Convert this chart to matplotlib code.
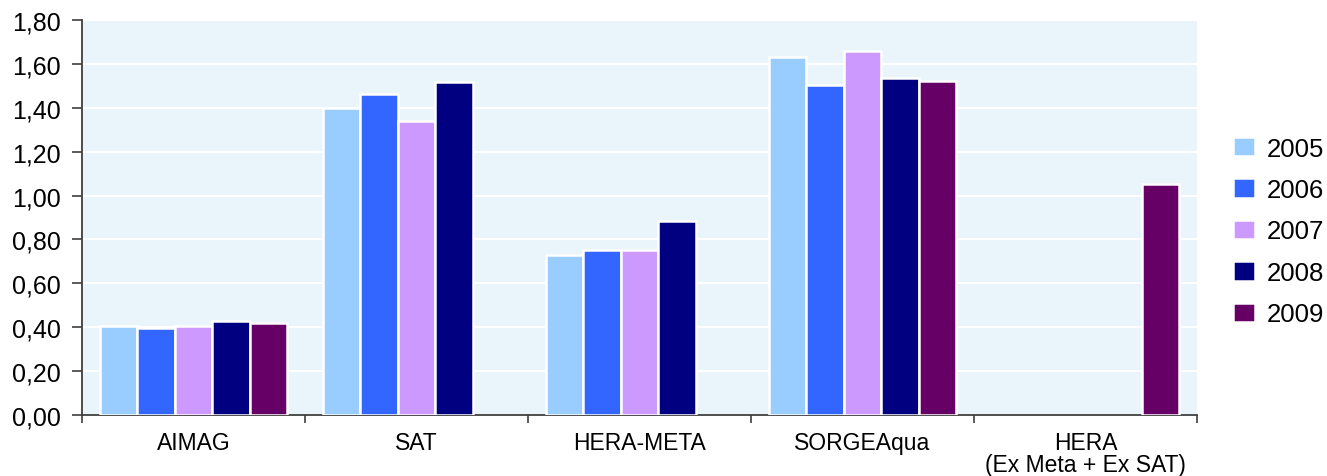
import matplotlib
matplotlib.use("Agg")
import matplotlib.pyplot as plt
import numpy as np

categories = ["AIMAG", "SAT", "HERA-META", "SORGEAqua", "HERA\n(Ex Meta + Ex SAT)"]
years = ["2005", "2006", "2007", "2008", "2009"]
values = {
    "2005": [0.404, 1.398, 0.729, 1.632, np.nan],
    "2006": [0.395, 1.463, 0.753, 1.503, np.nan],
    "2007": [0.404, 1.341, 0.753, 1.658, np.nan],
    "2008": [0.428, 1.520, 0.884, 1.535, np.nan],
    "2009": [0.420, np.nan, np.nan, 1.521, 1.055],
}
colors = ["#99CCFF", "#3366FF", "#CC99FF", "#000080", "#660066"]
yticks = [0.0, 0.2, 0.4, 0.6, 0.8, 1.0, 1.2, 1.4, 1.6, 1.8]

plt.rcParams['font.family'] = ['Liberation Sans', 'DejaVu Sans']

fig = plt.figure(figsize=(13.27, 4.77), dpi=100)
ax = fig.add_axes([82/1327, 1 - 415.7/477, (1197-82)/1327, (415.7-21.3)/477])
ax.set_facecolor("#EAF4FB")

x = np.arange(len(categories))
step = 37.5 / 223
for i, y in enumerate(years):
    ax.bar(x + (i - 2) * step, values[y], width=step, color=colors[i],
           edgecolor="white", linewidth=1.8, label=y, zorder=3)

ax.set_xlim(-0.5, len(categories) - 0.5)
ax.set_ylim(0, 1.8)
ax.set_yticks(yticks)
ax.set_yticklabels([f"{v:.2f}".replace(".", ",") for v in yticks], fontsize=18)
ax.yaxis.grid(True, color="white", linewidth=1.5, zorder=1)
ax.set_axisbelow(True)

ax.set_xticks(x)
ax.set_xticklabels(categories, fontsize=16.5, linespacing=0.9)
ax.tick_params(axis="x", length=0, pad=12)
ax.set_xticks(np.arange(len(categories) + 1) - 0.5, minor=True)
ax.tick_params(axis="x", which="minor", length=6, width=1.2, color="#404040")
ax.tick_params(axis="y", length=7, width=1.2, color="#404040", pad=8)

for s in ["top", "right"]:
    ax.spines[s].set_visible(False)
for s in ["left", "bottom"]:
    ax.spines[s].set_color("#404040")
    ax.spines[s].set_linewidth(1.3)

fig.legend(loc="center left", bbox_to_anchor=(1233/1327, 1 - 232.5/477),
           frameon=False, fontsize=18.5, handlelength=0.86, handleheight=0.78,
           handletextpad=0.45, labelspacing=0.68, borderpad=0, borderaxespad=0)

fig.savefig("out.png", dpi=100)
